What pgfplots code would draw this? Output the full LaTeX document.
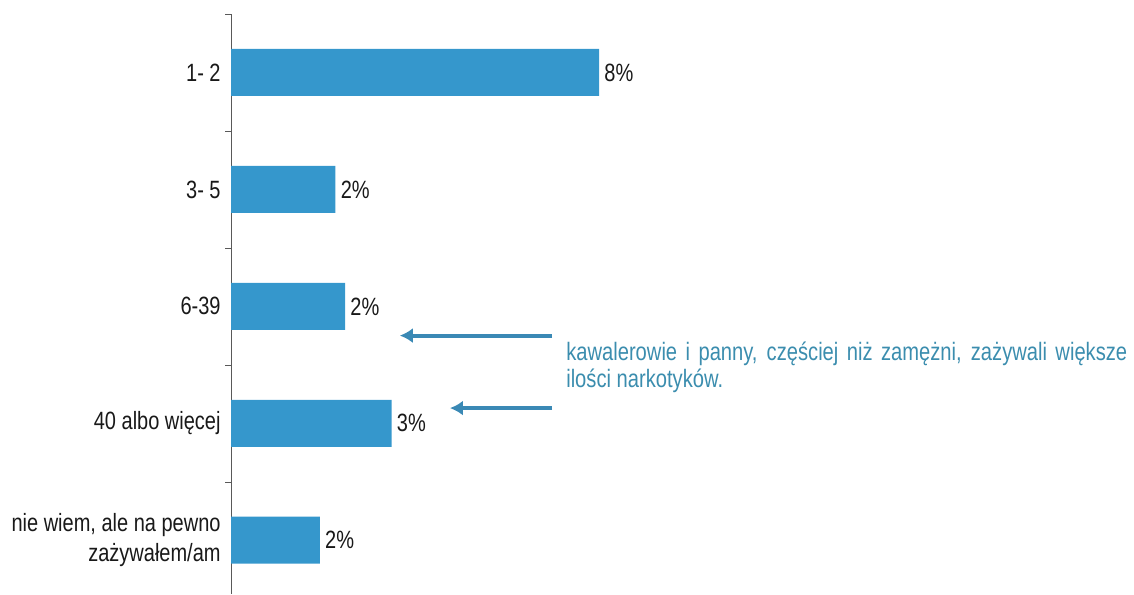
\documentclass[border=0pt]{standalone}
\usepackage{pgfplots}
\pgfplotsset{compat=1.18}
\usetikzlibrary{arrows.meta}
\usepackage{fontspec}
\setmainfont{Liberation Sans}[FakeStretch=0.8]
\definecolor{barblue}{HTML}{3597CC}
\definecolor{notecol}{HTML}{3B8DAE}
\definecolor{arrowcol}{HTML}{3A89B5}
\begin{document}
\begin{tikzpicture}
\path[use as bounding box] (0,0) rectangle (567pt,297pt);
\begin{axis}[
  at={(115.5pt,0pt)}, anchor=south west,
  scale only axis, width=451.5pt, height=290pt,
  xbar, bar width=23.5pt,
  xmin=0, xmax=19.63,
  ymin=-0.5, ymax=4.46, y dir=reverse,
  axis y line*=left, axis x line=none,
  axis line style={draw=black!65},
  ytick={0,1,2,3,4},
  yticklabels={{1- 2},{3- 5},{6-39},{40 albo więcej},{nie wiem, ale na pewno\\zażywałem/am}},
  yticklabel style={align=right, inner sep=0pt, xshift=-5pt, font=\fontsize{12.5}{15}\selectfont, text=black!90},
  major tick length=0pt,
  minor ytick={-0.5,0.5,1.5,2.5,3.5},
  minor tick length=3pt,
  tick align=outside,
  minor tick style={draw=black!65},
  /pgf/number format/assume math mode=true,
  nodes near coords={\pgfmathprintnumber[fixed,precision=0]{\pgfplotspointmeta}\%},
  nodes near coords style={anchor=west, inner sep=0pt, xshift=2.5pt, font=\fontsize{12.5}{15}\selectfont, text=black!90},
  clip=false,
]
\addplot[fill=barblue, draw=none] coordinates {
  (8.0,0) (2.27,1) (2.48,2) (3.49,3) (1.93,4)
};
\draw[arrowcol, line width=2pt, -{Latex[length=6.5pt,width=7.5pt]}] (axis cs:6.98,2.25) -- (axis cs:3.67,2.25);
\draw[arrowcol, line width=2pt, -{Latex[length=6.5pt,width=7.5pt]}] (axis cs:6.98,2.87) -- (axis cs:4.76,2.87);
\node[anchor=base west, inner sep=0pt, text width=280.5pt, align=justify, text=notecol, font=\fontsize{12.6}{13.5}\selectfont] at (axis cs:7.28,2.465)
  {kawalerowie i panny, częściej niż zamężni, zażywali większe\linebreak ilości narkotyków.};
\end{axis}
\end{tikzpicture}
\end{document}
